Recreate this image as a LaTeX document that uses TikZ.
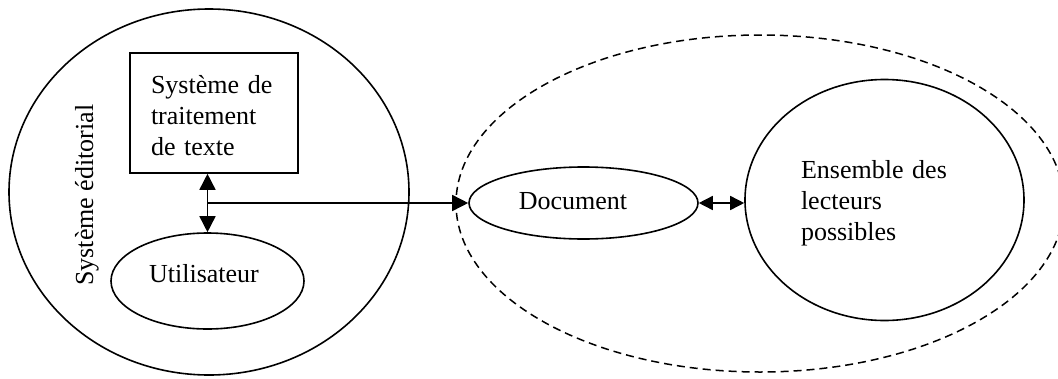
\documentclass[tikz,border=0pt]{standalone}
\usepackage{fontspec}
\setmainfont{Liberation Serif}
\usetikzlibrary{shapes.geometric,arrows.meta}
\begin{document}
\begin{tikzpicture}[x=1pt,y=-1pt,
  every node/.style={font=\fontsize{26}{31}\selectfont},
  solidline/.style={line width=1.6pt},
  oval/.style={ellipse,draw,solidline,inner sep=0pt},
  txt/.style={inner sep=0pt,align=left},
  onehead/.style={-{Triangle[length=16pt 0,width=16pt 0]}},
  twoheads/.style={{Triangle[length=16pt 0,width=16pt 0]}-{Triangle[length=16pt 0,width=16pt 0]}},
  shortheads/.style={{Triangle[length=14pt 0,width=14pt 0]}-{Triangle[length=14pt 0,width=14pt 0]}}
]
\useasboundingbox (0,0) rectangle (1058,378);
% outer shapes
\node[oval,minimum width=400pt,minimum height=366pt] (sys) at (209,192) {};
\node[ellipse,draw,line width=1.5pt,dash pattern=on 8pt off 5pt,inner sep=0pt,minimum width=608pt,minimum height=337pt] (env) at (760,203.5) {};
% inner shapes
\node[rectangle,draw,solidline,minimum width=168pt,minimum height=120pt,inner sep=0pt] (rect) at (214,113) {};
\node[txt,text width=126pt] (rtxt) at (214,116) {Système de\\traitement\\de texte};
\node[oval,minimum width=193pt,minimum height=96pt] (util) at (207.5,281) {};
\node[txt] (utxt) at (204,274) {Utilisateur};
\node[oval,minimum width=229pt,minimum height=72pt] (doc) at (583.5,203) {};
\node[txt] (dtxt) at (573,201) {Document};
\node[oval,minimum width=279pt,minimum height=241pt] (lect) at (884.5,200) {};
\node[txt,text width=150pt] (ltxt) at (876,203) {Ensemble des\\lecteurs\\possibles};
\node[txt,rotate=90] (stxt) at (87,195) {Système éditorial};
% connectors
\coordinate (top) at (util.north |- rect.south);
\coordinate (junc) at (util.north |- doc.west);
\draw[solidline,twoheads] (top) -- (util.north);
\draw[solidline,onehead] (junc) -- (doc.west);
\draw[solidline,shortheads] (doc.east) -- (doc.east -| lect.west);
\end{tikzpicture}
\end{document}
